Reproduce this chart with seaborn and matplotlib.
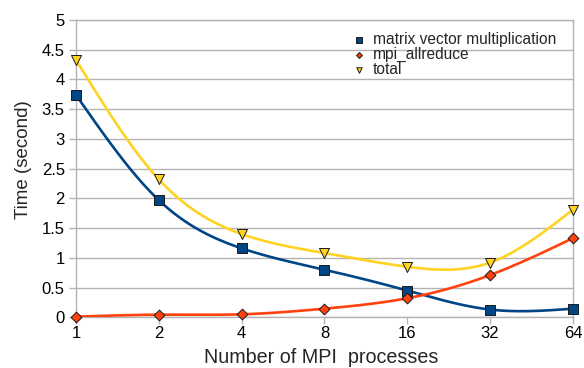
import numpy as np
import pandas as pd
import matplotlib
matplotlib.use("Agg")
import matplotlib.pyplot as plt
import seaborn as sns

processes = [1, 2, 4, 8, 16, 32, 64]
matrix_vec = [3.74, 1.97, 1.16, 0.80, 0.45, 0.13, 0.145]
mpi_allreduce = [0.01, 0.044, 0.05, 0.145, 0.32, 0.71, 1.33]
total = [4.33, 2.32, 1.40, 1.08, 0.85, 0.92, 1.81]
series_names = ["matrix vector multiplication", "mpi_allreduce", "total"]
colors = ["#004586", "#ff420e", "#ffd320"]
markers = ["s", "D", "v"]
msizes = [62, 30, 52]
yticks = [0, 0.5, 1, 1.5, 2, 2.5, 3, 3.5, 4, 4.5, 5]


def natural_spline(t, y, tt):
    t = np.asarray(t, float); y = np.asarray(y, float)
    n = len(t)
    h = np.diff(t)
    A = np.zeros((n, n)); b = np.zeros(n)
    A[0, 0] = 1; A[-1, -1] = 1
    for i in range(1, n - 1):
        A[i, i - 1] = h[i - 1]
        A[i, i] = 2 * (h[i - 1] + h[i])
        A[i, i + 1] = h[i]
        b[i] = 3 * ((y[i + 1] - y[i]) / h[i] - (y[i] - y[i - 1]) / h[i - 1])
    c = np.linalg.solve(A, b)
    out = np.empty_like(tt)
    for k, x in enumerate(tt):
        i = min(np.searchsorted(t, x, side="right") - 1, n - 2)
        i = max(i, 0)
        dx = x - t[i]
        bi = (y[i + 1] - y[i]) / h[i] - h[i] * (2 * c[i] + c[i + 1]) / 3
        di = (c[i + 1] - c[i]) / (3 * h[i])
        out[k] = y[i] + bi * dx + c[i] * dx ** 2 + di * dx ** 3
    return out


sns.set_theme(style="white")
plt.rcParams["font.family"] = ["Liberation Sans", "DejaVu Sans"]

fig = plt.figure(figsize=(5.84, 3.68), dpi=100)
ax = fig.add_axes([0.130, 0.1378, 0.851, 0.808])

t = np.log2(processes)
tt = np.linspace(t[0], t[-1], 400)
for name, vals, col, mk, ms in zip(series_names, [matrix_vec, mpi_allreduce, total], colors, markers, msizes):
    curve = pd.DataFrame({"x": 2 ** tt, "y": natural_spline(t, vals, tt)})
    sns.lineplot(data=curve, x="x", y="y", ax=ax, color=col, linewidth=1.9, zorder=3)
    pts = pd.DataFrame({"x": processes, "y": vals})
    sns.scatterplot(data=pts, x="x", y="y", ax=ax, color=col, marker=mk, s=ms,
                    edgecolor="#1a1a1a", linewidth=0.7, zorder=4, label=name, clip_on=False)

ax.set_xscale("log", base=2)
ax.set_xlim(1, 64)
ax.set_ylim(0, 5)
ax.set_xticks(processes)
ax.set_xticklabels([str(p) for p in processes])
ax.set_yticks(yticks)
ax.set_yticklabels([f"{v:g}" for v in yticks])
ax.minorticks_off()
ax.grid(axis="y", color="#b3b3b3", linewidth=1)
ax.grid(axis="x", visible=False)
for s in ax.spines.values():
    s.set_color("#b3b3b3")
    s.set_linewidth(1)
ax.tick_params(axis="both", which="major", labelsize=12, colors="#b3b3b3",
               labelcolor="#000000", length=5, width=1, direction="out",
               bottom=True, left=True, pad=3)
ax.tick_params(axis="x", pad=1)
ax.set_xlabel("Number of MPI  processes", fontsize=14.2, va="center")
ax.xaxis.set_label_coords(0.493, -0.134)
ax.set_ylabel("Time (second)", fontsize=13.5, va="center")
ax.yaxis.set_label_coords(-0.105, 0.529)

leg = ax.legend(loc="upper left", bbox_to_anchor=(0.561, 0.96), frameon=False,
                fontsize=11.2, handlelength=0.6, handletextpad=0.56, labelspacing=0.0,
                markerscale=0.55, borderaxespad=0, borderpad=0)

fig.savefig("out.png", dpi=100)
